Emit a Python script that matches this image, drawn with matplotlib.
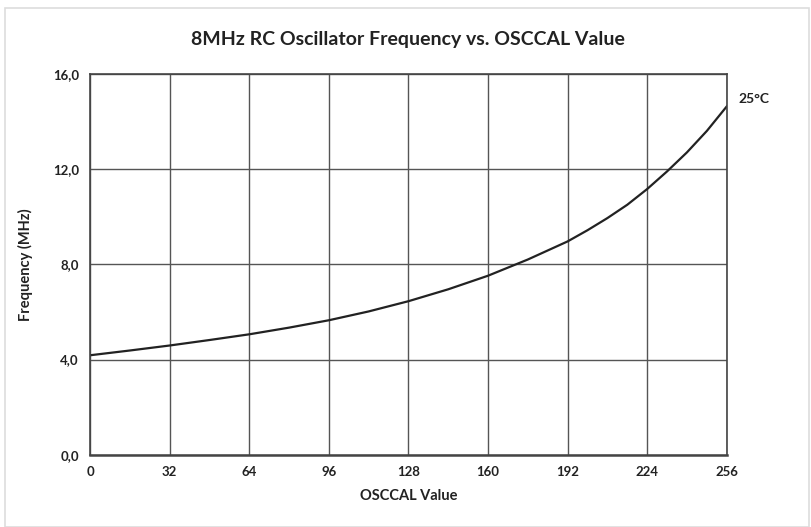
import matplotlib.pyplot as plt
from matplotlib.ticker import FuncFormatter
from matplotlib.patches import Rectangle

# OSCCAL value vs frequency (MHz)
osccal = [0, 16, 32, 48, 64, 80, 96, 112, 128, 144, 160, 176, 192, 200, 208, 216, 224,
          232, 240, 248, 256]
freq_mhz = [4.18, 4.38, 4.59, 4.82, 5.06, 5.34, 5.65, 6.02, 6.45, 6.95, 7.52, 8.2, 8.96,
            9.43, 9.94, 10.5, 11.16, 11.9, 12.7, 13.6, 14.63]
x_ticks = [0, 32, 64, 96, 128, 160, 192, 224, 256]
y_ticks = [0, 4, 8, 12, 16]

plt.rcParams['font.family'] = ['Lato', 'DejaVu Sans']
plt.rcParams['font.weight'] = 'bold'

fig = plt.figure(figsize=(8.12, 5.27), dpi=100)
ax = fig.add_axes([0.111, 0.137, 0.784, 0.723])

ax.plot(osccal, freq_mhz, color='#222222', linewidth=1.6, solid_joinstyle='round')

ax.set_xlim(0, 256)
ax.set_ylim(0, 16)
ax.set_xticks(x_ticks)
ax.set_yticks(y_ticks)
ax.yaxis.set_major_formatter(FuncFormatter(lambda v, p: f'{v:.1f}'.replace('.', ',')))
ax.tick_params(length=0, labelsize=9.5, colors='#222222', pad=8)
ax.grid(True, color='#555555', linewidth=1.0)
for s in ax.spines.values():
    s.set_color('#444444')
    s.set_linewidth(1.2)
ax.spines['bottom'].set_linewidth(1.8)

ax.set_xlabel('OSCCAL Value', fontsize=10.5, fontweight='bold', color='#222222', labelpad=8)
ax.set_ylabel('Frequency (MHz)', fontsize=10.5, fontweight='bold', color='#222222', labelpad=14)
fig.text(0.502, 0.925, '8MHz RC Oscillator Frequency vs. OSCCAL Value', ha='center',
         va='center', fontsize=14, fontweight='bold', color='#222222')
ax.text(1.018, 0.935, '25°C', transform=ax.transAxes, fontsize=10, fontweight='bold',
        color='#222222', va='center', ha='left')

# light border around the chart area
fig.patches.append(Rectangle((0.006, 0.0), 0.99, 0.985, transform=fig.transFigure,
                             fill=False, edgecolor='#dddddd', linewidth=1.2))

fig.savefig('out.png', dpi=100)
